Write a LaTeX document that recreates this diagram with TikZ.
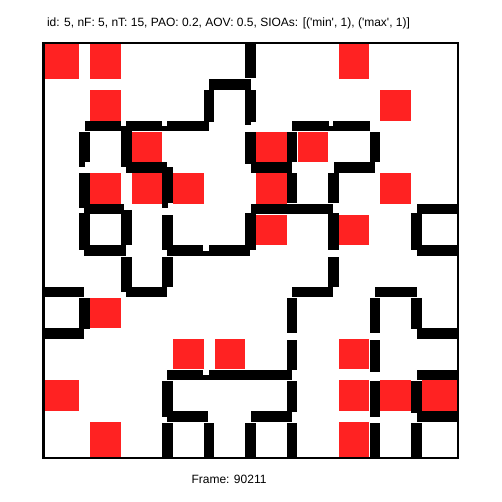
\documentclass[tikz,border=0pt]{standalone}
\usepackage{fontspec}
\setmainfont{Liberation Sans}[Ligatures=TeXOff]
\definecolor{cellred}{RGB}{255,34,34}
\begin{document}
\begin{tikzpicture}[x=1pt,y=-1pt,
  wall/.style={fill=black},
  redcell/.style={fill=cellred},
  framebox/.style={draw=black, line width=2.4pt},
  label/.style={font=\fontsize{12}{14}\selectfont, anchor=base, inner sep=0pt}]
\def\ox{43.3}
\def\cs{41.45}
\def\hw{5.3}
\useasboundingbox (0,0) rectangle (502,502);
\fill[white] (0,0) rectangle (502,502);
% red cells
\foreach \c/\r in {0/0,1/0,7/0,1/1,8/1,2/2,5/2,6/2,1/3,2/3,3/3,5/3,8/3,5/4,7/4,1/6,3/7,4/7,7/7,0/8,7/8,8/8,9/8,1/9,7/9}{
  \pgfmathsetmacro\xa{\c==0 ? \ox : \ox+\c*\cs+5.5}
  \pgfmathsetmacro\xb{\c==9 ? \ox+10*\cs : \ox+(\c+1)*\cs-5.5}
  \pgfmathsetmacro\ya{\r==0 ? \ox : \ox+\r*\cs+5.5}
  \pgfmathsetmacro\yb{\r==9 ? \ox+10*\cs : \ox+(\r+1)*\cs-5.5}
  \fill[redcell] (\xa,\ya) rectangle (\xb,\yb);
}
% horizontal wall pieces: grid line j, from x1 to x2
\foreach \j/\xa/\xb in {1/209/251,
  2/84.7/121, 2/126/162, 2/166.7/209.3, 2/291.7/329, 2/333/370,
  3/126/166.7, 3/251/291.7, 3/334/375,
  4/84/124, 4/251/333, 4/416.7/458,
  5/84/126, 5/166.7/203.3, 5/209/250, 5/416.7/458,
  6/43/84, 6/126/166.7, 6/291.7/333, 6/375/416.7,
  7/43/84, 7/416.7/458,
  8/166.7/203.3, 8/209/291.7, 8/416.7/458,
  9/166.7/208, 9/251/291.7, 9/416.7/458}{
  \fill[wall] (\xa,{\ox+\j*\cs-\hw}) rectangle (\xb,{\ox+\j*\cs+\hw});
}
% vertical wall pieces: grid line i, from y1 to y2
\foreach \i/\ya/\yb in {1/131.7/162, 1/172.7/208, 1/213/250, 1/297.7/329,
  2/126/166.7, 2/210/245, 2/256.7/291.7,
  3/166.7/203.3, 3/215/250, 3/256.7/286.7, 3/380.7/416.7, 3/423/458,
  4/90/121.7, 4/423/458,
  5/43/78, 5/90/121.7, 5/131.7/164, 5/213/250, 5/423/458,
  6/131.7/161.7, 6/172.7/203.3, 6/297.7/333, 6/340/370, 6/380.7/412, 6/423/458,
  7/172.7/203.3, 7/213/250, 7/256.7/286.7,
  8/131.7/161.7, 8/297.7/333, 8/340/371.7, 8/380.7/416.7, 8/423/458,
  9/213/250, 9/297.7/329, 9/380.7/413, 9/423/458}{
  \fill[wall] ({\ox+\i*\cs-\hw},\ya) rectangle ({\ox+\i*\cs+\hw},\yb);
}
% half-width pieces at a few joints
\fill[wall] ({\ox+\cs-\hw},162) rectangle ({\ox+\cs},167);
\fill[wall] ({\ox+3*\cs-\hw},203.3) rectangle ({\ox+3*\cs},208);
\fill[wall] ({\ox+5*\cs-\hw},121) rectangle ({\ox+5*\cs},125);
\fill[wall] (162,{\ox+2*\cs}) rectangle (167,{\ox+2*\cs+\hw});
\fill[wall] (329,{\ox+2*\cs}) rectangle (333,{\ox+2*\cs+\hw});
\fill[wall] (203,{\ox+5*\cs}) rectangle (209.5,{\ox+5*\cs+\hw});
\fill[wall] (203,{\ox+8*\cs}) rectangle (209.5,{\ox+8*\cs+\hw});
% frame
\draw[framebox] (\ox,\ox) rectangle ({\ox+10*\cs},{\ox+10*\cs});
% texts
\node[label] (title) at (228.5,27) {id: 5, nF: 5, nT: 15, PAO: 0.2, AOV: 0.5, SIOAs: [('min', 1), ('max', 1)]};
\node[label] (frame) at (229,483) {Frame: 90211};
\end{tikzpicture}
\end{document}
